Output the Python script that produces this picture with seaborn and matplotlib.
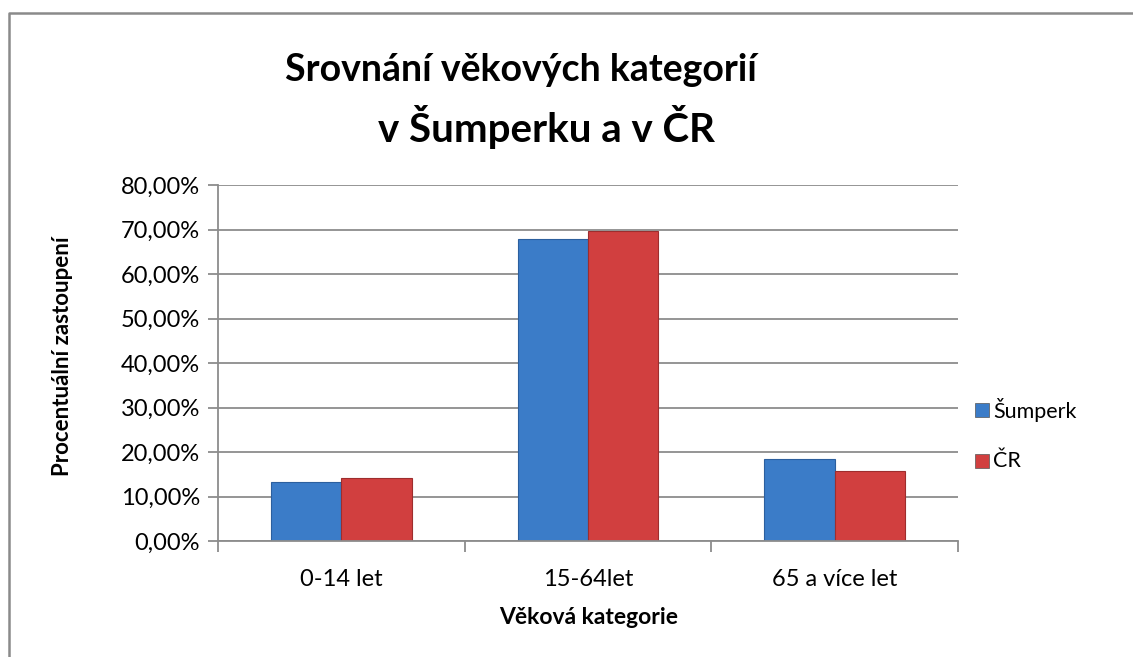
import matplotlib
matplotlib.use("Agg")
import matplotlib.pyplot as plt
import seaborn as sns
import pandas as pd
from matplotlib.lines import Line2D
from matplotlib.ticker import FuncFormatter, MultipleLocator

categories = ["0-14 let", "15-64let", "65 a více let"]
sumperk = [13.2, 67.8, 18.4]
cr = [14.1, 69.7, 15.7]
series_names = ["Šumperk", "ČR"]

df = pd.DataFrame({
    "kat": categories * 2,
    "val": sumperk + cr,
    "serie": [series_names[0]] * 3 + [series_names[1]] * 3,
})

sns.set_theme(style="white")
plt.rcParams["font.family"] = ["Lato", "DejaVu Sans"]
plt.rcParams["text.color"] = "black"
plt.rcParams["axes.labelcolor"] = "black"

W, H = 1133, 657
fig = plt.figure(figsize=(W / 100, H / 100), dpi=100)
ax = fig.add_axes([218 / W, 1 - 541 / H, (958 - 218) / W, (541 - 185) / H])

palette = {"Šumperk": "#3b7cc8", "ČR": "#d13f3f"}
sns.barplot(data=df, x="kat", y="val", hue="serie", palette=palette,
            width=0.57, ax=ax, saturation=1, edgecolor="none", legend=False)
for i, p in enumerate(ax.patches):
    col = "#2c5f9e" if i < 3 else "#9e2d2d"
    p.set_edgecolor(col)
    p.set_linewidth(0.8)

ax.set_ylim(0, 80)
ax.set_xlim(-0.5, 2.5)
ax.yaxis.set_major_locator(MultipleLocator(10))
ax.yaxis.set_major_formatter(FuncFormatter(lambda v, _: f"{v:.2f}".replace(".", ",") + "%"))
ax.grid(axis="y", color="#8c8c8c", linewidth=1.3)
ax.set_axisbelow(True)
for s in ["top", "right"]:
    ax.spines[s].set_visible(False)
for s in ["left", "bottom"]:
    ax.spines[s].set_color("#8c8c8c")
    ax.spines[s].set_linewidth(1.3)

ax.tick_params(axis="y", which="major", left=True, length=7, width=1.3, color="#8c8c8c",
               labelsize=17, labelcolor="black", pad=6)
ax.set_xticks([0, 1, 2])
ax.set_xticklabels(categories)
ax.tick_params(axis="x", which="major", bottom=False, labelsize=17, labelcolor="black", pad=14)
ax.set_xticks([-0.5, 0.5, 1.5, 2.5], minor=True)
ax.tick_params(axis="x", which="minor", bottom=True, length=8, width=1.3, color="#8c8c8c")

ax.set_xlabel("Věková kategorie", fontsize=16.5, fontweight="bold")
ax.set_ylabel("Procentuální zastoupení", fontsize=16, fontweight="bold")
ax.xaxis.label.set_verticalalignment("center")
ax.yaxis.label.set_verticalalignment("center")
ax.xaxis.set_label_coords((589 - 218) / 740, (541 - 617) / 356)
ax.yaxis.set_label_coords((62 - 218) / 740, (541 - 356) / 356)

fig.text(521 / W, 1 - 70 / H, "Srovnání věkových kategorií", ha="center", va="center",
         fontsize=27, fontweight="bold")
fig.text(546 / W, 1 - 127 / H, "v Šumperku a v ČR", ha="center", va="center",
         fontsize=29, fontweight="bold")

# legend
for name, yy in zip(series_names, [410, 461]):
    fig.patches.append(plt.Rectangle((975 / W, 1 - (yy + 7) / H), 14 / W, 14 / H,
                                     transform=fig.transFigure, facecolor=palette[name],
                                     edgecolor="#555555", linewidth=0.5))
    fig.text(993 / W, 1 - yy / H, name, ha="left", va="center", fontsize=15.5)

# outer border
fig.add_artist(Line2D([8.5 / W, 8.5 / W, 1.0], [0, 1 - 12.5 / H, 1 - 12.5 / H],
                      transform=fig.transFigure, color="#8a8a8a", linewidth=1.8))

fig.savefig("out.png", dpi=100)
